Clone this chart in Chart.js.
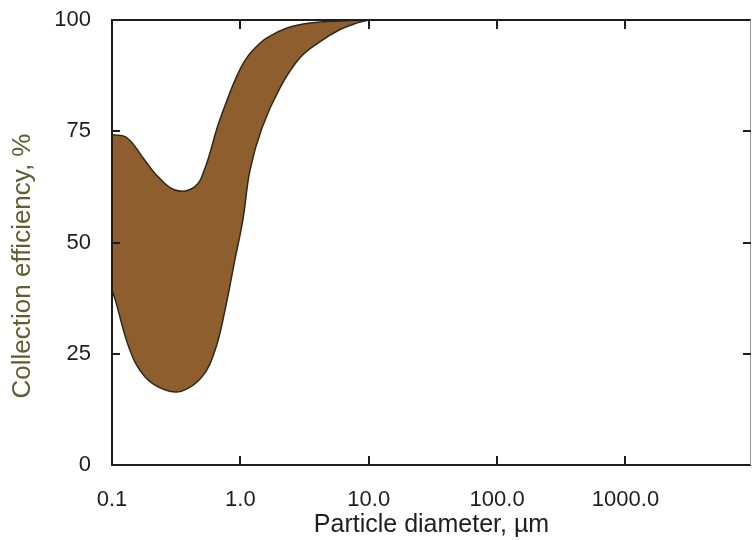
<!DOCTYPE html>
<html>
<head>
<meta charset="utf-8">
<script src="https://cdn.jsdelivr.net/npm/chart.js@4/dist/chart.umd.min.js"></script>
<style>
  body { margin: 0; background: #fff; }
  canvas { display: block; }
</style>
</head>
<body>
<canvas id="chart" width="752" height="540"></canvas>
<script>
// upper edge of the band (particle diameter in µm, efficiency in %)
const upperX = [0.1, 0.13, 0.18, 0.22, 0.31, 0.44, 0.53, 0.67, 0.8, 0.925, 1.09, 1.3, 1.61, 2.31, 3.48, 6.0, 10];
const upperY = [74.2, 73.6, 68.5, 65.3, 61.8, 62.5, 66.7, 76.4, 82.5, 87.0, 91.0, 93.7, 96.0, 98.2, 99.3, 99.8, 100];

// lower edge of the band
const lowerX = [0.1, 0.106, 0.138, 0.181, 0.258, 0.35, 0.502, 0.635, 0.759, 0.906, 1.046, 1.19, 1.47, 2.03, 2.91, 4.15, 5.93, 8.06, 10];
const lowerY = [39.3, 37.1, 25.8, 19.8, 16.9, 16.6, 19.8, 25.8, 34.8, 46.1, 55.1, 66.3, 75.7, 84.7, 91.5, 95.1, 97.8, 99.3, 100];

const xTicks = [0.1, 1, 10, 100, 1000];
const xTickLabels = ["0.1", "1.0", "10.0", "100.0", "1000.0"];
const yTicks = [0, 25, 50, 75, 100];

const xTitle = "Particle diameter, \u00b5m";
const yTitle = "Collection efficiency, %";

function toPoints(xs, ys) {
    return xs.map((x, i) => ({ x: x, y: ys[i] }));
}

// frame, inward ticks and the rotated y title
const framePlugin = {
    id: "frame",
    afterDraw(chart) {
        const ctx = chart.ctx;
        const a = chart.chartArea;
        const sx = chart.scales.x;
        const sy = chart.scales.y;
        ctx.save();
        ctx.strokeStyle = "#1e1e1e";
        ctx.lineWidth = 2;
        ctx.beginPath();
        ctx.moveTo(a.right, a.top);
        ctx.lineTo(a.left, a.top);
        ctx.lineTo(a.left, a.bottom);
        ctx.lineTo(a.right, a.bottom);
        ctx.stroke();
        ctx.strokeStyle = "#999";
        ctx.lineWidth = 1;
        ctx.beginPath();
        ctx.moveTo(a.right - 0.5, a.top);
        ctx.lineTo(a.right - 0.5, a.bottom);
        ctx.stroke();

        ctx.strokeStyle = "#1e1e1e";
        ctx.lineWidth = 2;
        ctx.beginPath();
        yTicks.slice(1, -1).forEach(v => {
            const py = Math.round(sy.getPixelForValue(v));
            ctx.moveTo(a.left, py);
            ctx.lineTo(a.left + 8, py);
            ctx.moveTo(a.right, py);
            ctx.lineTo(a.right - 8, py);
        });
        xTicks.slice(1).forEach(v => {
            const px = Math.round(sx.getPixelForValue(v));
            ctx.moveTo(px, a.bottom);
            ctx.lineTo(px, a.bottom - 9);
            ctx.moveTo(px, a.top);
            ctx.lineTo(px, a.top + 9);
        });
        ctx.stroke();

        ctx.translate(23, 266);
        ctx.rotate(-Math.PI / 2);
        ctx.fillStyle = "#5e5e30";
        ctx.font = "26px 'Liberation Sans', Arial, sans-serif";
        ctx.textAlign = "center";
        ctx.textBaseline = "middle";
        ctx.fillText(yTitle, 0, 0);
        ctx.restore();
    }
};

new Chart(document.getElementById("chart"), {
    type: "line",
    data: {
        datasets: [
            {
                data: toPoints(upperX, upperY),
                borderColor: "#2a2a18",
                borderWidth: 1.5,
                backgroundColor: "#8f5e2f",
                pointRadius: 0,
                tension: 0.4,
                fill: false
            },
            {
                data: toPoints(lowerX, lowerY),
                borderColor: "#2a2a18",
                borderWidth: 1.5,
                backgroundColor: "#8f5e2f",
                pointRadius: 0,
                tension: 0.4,
                fill: "-1"
            }
        ]
    },
    options: {
        responsive: false,
        animation: false,
        events: [],
        layout: { padding: { top: 20, right: 1, left: 0, bottom: 0 } },
        plugins: {
            legend: { display: false },
            tooltip: { enabled: false }
        },
        scales: {
            x: {
                type: "logarithmic",
                min: 0.1,
                max: 9500,
                grid: { display: false },
                border: { display: false },
                afterBuildTicks: scale => {
                    scale.ticks = xTicks.map(v => ({ value: v }));
                },
                afterFit: scale => {
                    scale.height = 75;
                    scale.paddingLeft = 0;
                    scale.paddingRight = 0;
                },
                ticks: {
                    autoSkip: false,
                    maxRotation: 0,
                    padding: 14,
                    color: "#1e1e1e",
                    font: { family: "'Liberation Sans', Arial, sans-serif", size: 22 },
                    callback: value => xTickLabels[xTicks.indexOf(value)]
                },
                title: {
                    display: true,
                    text: xTitle,
                    color: "#1e1e1e",
                    padding: { top: 0, bottom: 0 },
                    font: { family: "'Liberation Sans', Arial, sans-serif", size: 25 }
                }
            },
            y: {
                min: 0,
                max: 100,
                grid: { display: false },
                border: { display: false },
                afterBuildTicks: scale => {
                    scale.ticks = yTicks.map(v => ({ value: v }));
                },
                afterFit: scale => {
                    scale.width = 112;
                    scale.paddingTop = 0;
                    scale.paddingBottom = 0;
                },
                ticks: {
                    padding: 13,
                    color: "#1e1e1e",
                    font: { family: "'Liberation Sans', Arial, sans-serif", size: 22 }
                }
            }
        }
    },
    plugins: [framePlugin]
});
</script>
</body>
</html>
